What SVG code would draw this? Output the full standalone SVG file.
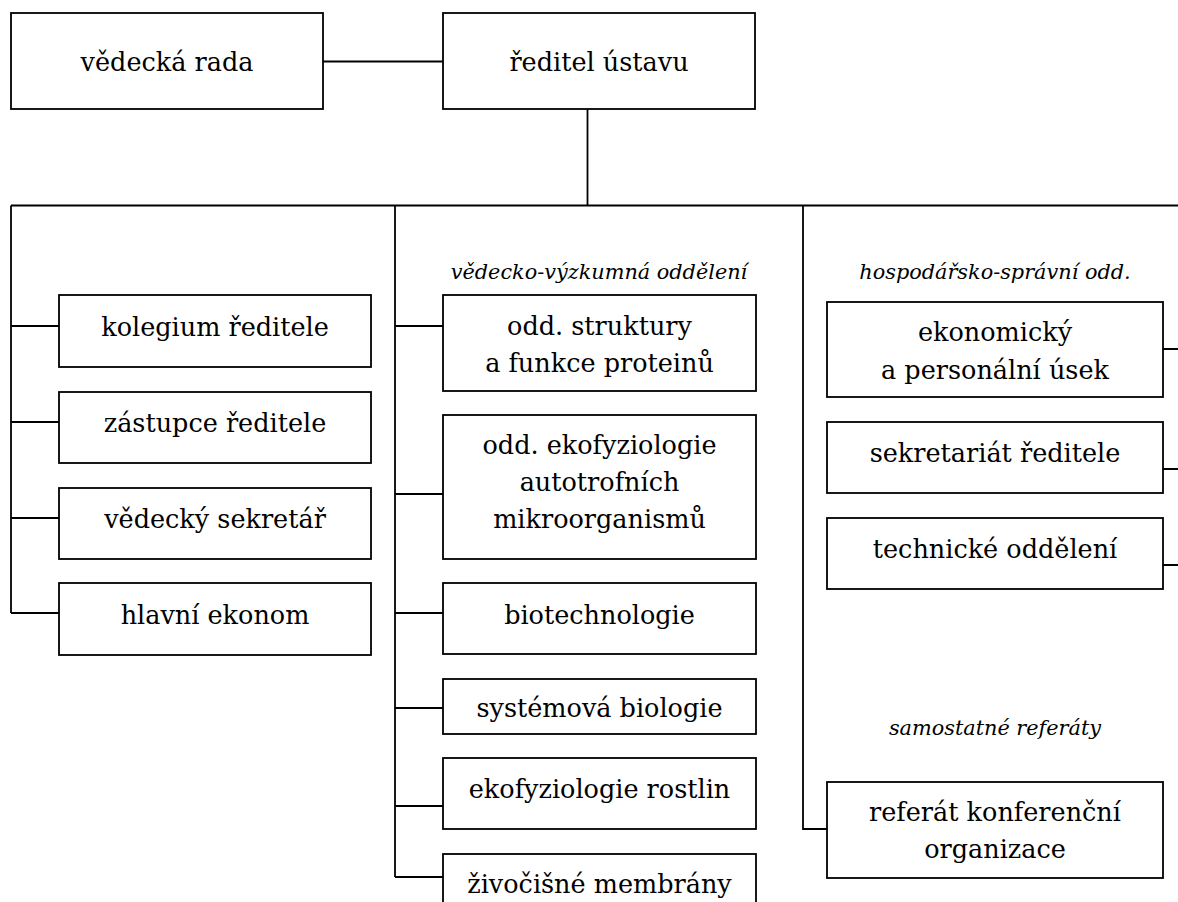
<svg xmlns="http://www.w3.org/2000/svg" width="1178" height="902" viewBox="0 0 1178 902">
<style>
.box{fill:#fff;stroke:#000;stroke-width:1.8}
.ln{fill:none;stroke:#000;stroke-width:1.8}
text{font-family:"DejaVu Serif","Liberation Serif",serif;fill:#000;text-anchor:middle}
.t{font-size:25.5px}
.h{font-size:20.8px;font-style:italic}
</style>
<rect width="1178" height="902" fill="#fff"/>
<g id="connectors">
<path class="ln" d="M323 61.5H443"/>
<path class="ln" d="M587.5 109V205.5"/>
<path class="ln" d="M11 205.5H1178"/>
<path class="ln" d="M11 205.5V613"/>
<path class="ln" d="M11 326H59M11 422H59M11 518H59M11 613H59"/>
<path class="ln" d="M395 205.5V877"/>
<path class="ln" d="M395 326H443M395 494H443M395 613H443M395 708H443M395 806H443M395 877H443"/>
<path class="ln" d="M803 205.5V829H827"/>
<path class="ln" d="M1163 349H1178M1163 469H1178M1163 565H1178"/>
</g>
<g id="vedecka-rada"><rect class="box" x="11" y="13" width="312" height="96"/><text class="t" x="167" y="71">vědecká rada</text></g>
<g id="reditel"><rect class="box" x="443" y="13" width="312" height="96"/><text class="t" x="599" y="71">ředitel ústavu</text></g>
<g id="kolegium"><rect class="box" x="59" y="295" width="312" height="72"/><text class="t" x="215" y="336">kolegium ředitele</text></g>
<g id="zastupce"><rect class="box" x="59" y="392" width="312" height="71"/><text class="t" x="215" y="432">zástupce ředitele</text></g>
<g id="sekretar"><rect class="box" x="59" y="488" width="312" height="71"/><text class="t" x="215" y="528">vědecký sekretář</text></g>
<g id="ekonom"><rect class="box" x="59" y="583" width="312" height="72"/><text class="t" x="215" y="624">hlavní ekonom</text></g>
<g id="label-vv"><text class="h" x="599" y="279">vědecko-výzkumná oddělení</text></g>
<g id="label-hs"><text class="h" x="995" y="279">hospodářsko-správní odd.</text></g>
<g id="label-sr"><text class="h" x="995" y="735">samostatné referáty</text></g>
<g id="proteiny"><rect class="box" x="443" y="295" width="313" height="96"/><text class="t" x="599.5" y="335">odd. struktury</text><text class="t" x="599.5" y="372">a funkce proteinů</text></g>
<g id="autotrofni"><rect class="box" x="443" y="415" width="313" height="144"/><text class="t" x="599.5" y="454">odd. ekofyziologie</text><text class="t" x="599.5" y="491">autotrofních</text><text class="t" x="599.5" y="528">mikroorganismů</text></g>
<g id="biotech"><rect class="box" x="443" y="583" width="313" height="71"/><text class="t" x="599.5" y="624">biotechnologie</text></g>
<g id="systemova"><rect class="box" x="443" y="679" width="313" height="55"/><text class="t" x="599.5" y="717">systémová biologie</text></g>
<g id="rostliny"><rect class="box" x="443" y="758" width="313" height="71"/><text class="t" x="599.5" y="798">ekofyziologie rostlin</text></g>
<g id="membrany"><rect class="box" x="443" y="854" width="313" height="70"/><text class="t" x="599.5" y="893">živočišné membrány</text></g>
<g id="ekonomicky"><rect class="box" x="827" y="302" width="336" height="95"/><text class="t" x="995" y="341">ekonomický</text><text class="t" x="995" y="379">a personální úsek</text></g>
<g id="sekretariat"><rect class="box" x="827" y="422" width="336" height="71"/><text class="t" x="995" y="462">sekretariát ředitele</text></g>
<g id="technicke"><rect class="box" x="827" y="518" width="336" height="71"/><text class="t" x="995" y="558">technické oddělení</text></g>
<g id="referat"><rect class="box" x="827" y="782" width="336" height="96"/><text class="t" x="995" y="821">referát konferenční</text><text class="t" x="995" y="858">organizace</text></g>
</svg>
